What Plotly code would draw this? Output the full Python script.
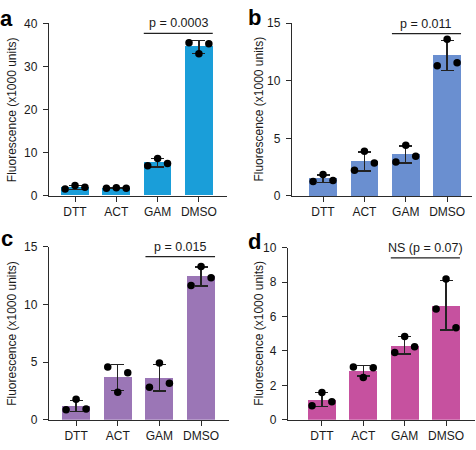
import plotly.graph_objects as go

W, H = 476, 450

categories = ["DTT", "ACT", "GAM", "DMSO"]

# Panel a
means_a = [2.0, 1.8, 7.7, 34.6]
sd_a = [0.45, 0.1, 0.95, 1.5]
pts_a = [[1.6, 2.4, 2.0], [1.8, 1.9, 1.8], [7.0, 8.7, 7.5], [35.5, 33.0, 35.3]]
# Panel b
means_b = [1.5, 3.0, 3.6, 12.2]
sd_b = [0.33, 0.83, 0.75, 1.3]
pts_b = [[1.26, 1.87, 1.34], [2.24, 3.87, 2.86], [2.94, 4.4, 3.45], [11.3, 13.6, 11.57]]
# Panel c
means_c = [1.2, 3.67, 3.64, 12.45]
sd_c = [0.48, 1.13, 1.16, 0.82]
pts_c = [[0.87, 1.77, 0.93], [4.57, 2.38, 4.07], [2.83, 4.93, 3.17], [11.66, 13.3, 12.33]]
# Panel d
means_d = [1.17, 2.84, 4.32, 6.65]
sd_d = [0.41, 0.31, 0.5, 1.43]
pts_d = [[0.81, 1.59, 1.05], [3.06, 2.46, 3.02], [3.9, 4.84, 4.24], [6.43, 8.18, 5.35]]

ticks_a = [0, 10, 20, 30, 40]
ticks_b = [0, 5, 10, 15]
ticks_c = [0, 5, 10, 15]
ticks_d = [0, 2, 4, 6, 8, 10]

pvals = ["p = 0.0003", "p = 0.011", "p = 0.015", "NS (p = 0.07)"]
letters = ["a", "b", "c", "d"]
colors = ["#1A9ED9", "#6A8FD0", "#9B76B6", "#C6519F"]

jitter = [-0.24, 0.0, 0.24]
bar_w = 0.67

def px_x(p):
    return p / W

def px_y(p):
    return 1 - p / H

panels = [
    dict(means=means_a, sd=sd_a, pts=pts_a, ticks=ticks_a,
         dom_x=(49, 227), dom_y=(17, 195), xr=[-0.63, 3.68], yr=[0, 40],
         sig_y=37.7, title_x=11.5, letter_xy=(6.5, 12)),
    dict(means=means_b, sd=sd_b, pts=pts_b, ticks=ticks_b,
         dom_x=(292, 472), dom_y=(16.7, 195), xr=[-0.75, 3.6], yr=[0, 15],
         sig_y=14.1, title_x=259, letter_xy=(254, 11)),
    dict(means=means_c, sd=sd_c, pts=pts_c, ticks=ticks_c,
         dom_x=(49, 229), dom_y=(247.7, 426), xr=[-0.65, 3.67], yr=[0, 15],
         sig_y=14.16, title_x=12.5, letter_xy=(6.5, 239)),
    dict(means=means_d, sd=sd_d, pts=pts_d, ticks=ticks_d,
         dom_x=(288, 475), dom_y=(248.3, 426), xr=[-0.82, 3.7], yr=[0, 10],
         sig_y=9.4, title_x=259, letter_xy=(254, 242)),
]

fig = go.Figure()
annotations = []
shapes = []
axis_color = "#2b2b2b"
font_fam = "Liberation Sans, Arial, sans-serif"

for i, p in enumerate(panels):
    k = "" if i == 0 else str(i + 1)
    xa, ya = "x" + k, "y" + k
    xs = list(range(len(categories)))
    fig.add_trace(go.Bar(
        x=xs, y=p["means"], width=bar_w, marker=dict(color=colors[i], line=dict(width=0)),
        error_y=dict(type="data", array=p["sd"], visible=True, color="#222222",
                     thickness=1.4, width=6.5),
        xaxis=xa, yaxis=ya, showlegend=False, hoverinfo="skip"))
    dx, dy = [], []
    for ci, vals in enumerate(p["pts"]):
        for j, v in enumerate(vals):
            dx.append(ci + jitter[j])
            dy.append(v)
    fig.add_trace(go.Scatter(
        x=dx, y=dy, mode="markers", marker=dict(color="black", size=7.5),
        xaxis=xa, yaxis=ya, showlegend=False, hoverinfo="skip", cliponaxis=False))

    xd = [px_x(p["dom_x"][0]), px_x(p["dom_x"][1])]
    yd = [px_y(p["dom_y"][1]), px_y(p["dom_y"][0])]
    common = dict(showline=True, linecolor=axis_color, linewidth=1.3, ticks="outside",
                  ticklen=5, tickwidth=1.3, tickcolor=axis_color, showgrid=False,
                  zeroline=False, tickfont=dict(family=font_fam, size=12, color="#1a1a1a"))
    fig.update_layout(**{
        "xaxis" + k: dict(domain=xd, range=p["xr"], anchor=ya, tickmode="array",
                          tickvals=xs, ticktext=categories, **common),
        "yaxis" + k: dict(domain=yd, range=p["yr"], anchor=xa, tickmode="array",
                          tickvals=p["ticks"], ticklabelstandoff=3, **common),
    })
    shapes.append(dict(type="line", xref=xa, yref=ya, x0=2 - bar_w / 2, x1=3 + bar_w / 2,
                       y0=p["sig_y"], y1=p["sig_y"], line=dict(color="#222222", width=1.3)))
    annotations.append(dict(xref=xa, yref=ya, x=2.5, y=p["sig_y"], text=pvals[i],
                            showarrow=False, yanchor="bottom", xanchor="center", yshift=1,
                            font=dict(family=font_fam, size=12.5, color="#1a1a1a")))
    annotations.append(dict(xref="paper", yref="paper", x=px_x(p["title_x"]),
                            y=(yd[0] + yd[1]) / 2, text="Fluorescence (x1000 units)",
                            textangle=-90, showarrow=False, xanchor="center", yanchor="middle",
                            font=dict(family=font_fam, size=12, color="#1a1a1a")))
    lx, ly = p["letter_xy"]
    annotations.append(dict(xref="paper", yref="paper", x=px_x(lx), y=px_y(ly),
                            text="<b>" + letters[i] + "</b>", showarrow=False,
                            xanchor="center", yanchor="middle",
                            font=dict(family=font_fam, size=22, color="black")))

fig.update_layout(width=W, height=H, margin=dict(l=0, r=0, t=0, b=0),
                  paper_bgcolor="white", plot_bgcolor="white",
                  annotations=annotations, shapes=shapes, bargap=0)

fig.write_html("out.html")
